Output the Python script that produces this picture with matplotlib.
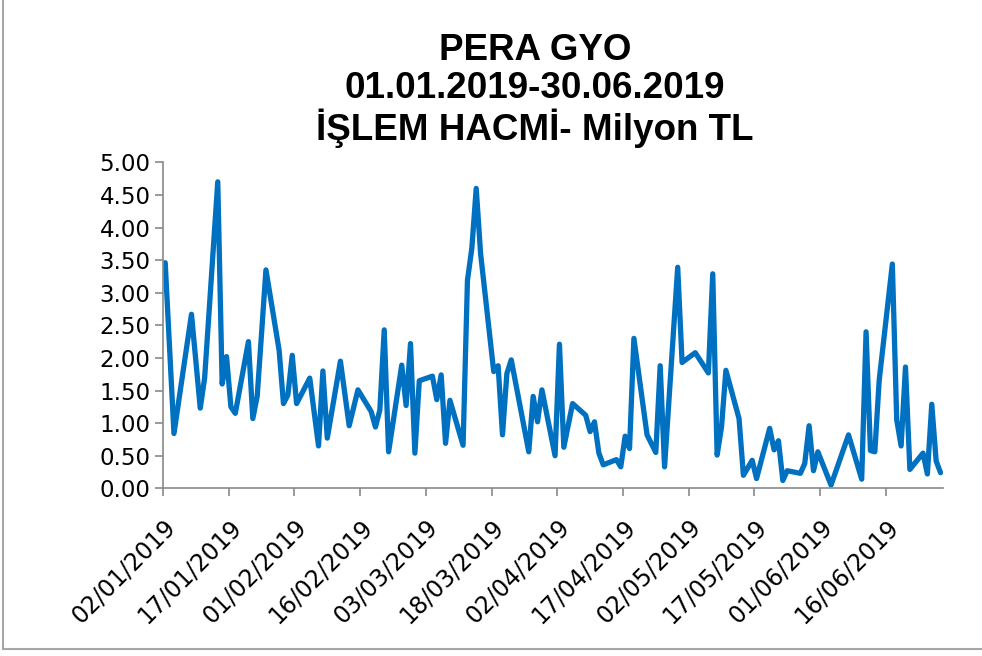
import numpy as np
import pandas as pd
import matplotlib
matplotlib.use("Agg")
from matplotlib import pyplot as plt
import matplotlib.dates as mdates
from matplotlib.lines import Line2D
from matplotlib.transforms import ScaledTranslation

# trading days (2019) and volume in million TL
dates = ["01-02", "01-04", "01-08", "01-10", "01-11", "01-14", "01-15", "01-16",
         "01-17", "01-18", "01-21", "01-22", "01-23", "01-25", "01-28", "01-29",
         "01-30", "01-31", "02-01", "02-04", "02-06", "02-07", "02-08", "02-11",
         "02-13", "02-15", "02-18", "02-19", "02-20", "02-21", "02-22", "02-25",
         "02-26", "02-27", "02-28", "03-01", "03-04", "03-05", "03-06", "03-07",
         "03-08", "03-11", "03-12", "03-13", "03-14", "03-15", "03-18", "03-19",
         "03-20", "03-21", "03-22", "03-26", "03-27", "03-28", "03-29", "04-01",
         "04-02", "04-03", "04-05", "04-08", "04-09", "04-10", "04-11", "04-12",
         "04-15", "04-16", "04-17", "04-18", "04-19", "04-22", "04-24", "04-25",
         "04-26", "04-29", "04-30", "05-03", "05-06", "05-07", "05-08", "05-09",
         "05-10", "05-13", "05-14", "05-16", "05-17", "05-20", "05-21", "05-22",
         "05-23", "05-24", "05-27", "05-28", "05-29", "05-30", "05-31", "06-03",
         "06-07", "06-10", "06-11", "06-12", "06-13", "06-14", "06-17", "06-18",
         "06-19", "06-20", "06-21", "06-24", "06-25", "06-26", "06-27", "06-28"]
volume = [3.46, 0.84, 2.67, 1.23, 1.69, 4.70, 1.60, 2.02,
          1.25, 1.15, 2.25, 1.07, 1.41, 3.35, 2.12, 1.30,
          1.43, 2.04, 1.30, 1.69, 0.65, 1.80, 0.77, 1.95,
          0.96, 1.51, 1.18, 0.94, 1.20, 2.43, 0.56, 1.89,
          1.27, 2.22, 0.54, 1.65, 1.72, 1.36, 1.74, 0.69,
          1.35, 0.66, 3.19, 3.68, 4.60, 3.60, 1.79, 1.88,
          0.82, 1.76, 1.97, 0.56, 1.41, 1.02, 1.51, 0.50,
          2.21, 0.63, 1.30, 1.12, 0.87, 1.02, 0.54, 0.36,
          0.44, 0.33, 0.80, 0.61, 2.30, 0.82, 0.55, 1.88,
          0.33, 3.39, 1.93, 2.08, 1.77, 3.29, 0.51, 0.94,
          1.81, 1.07, 0.20, 0.43, 0.15, 0.92, 0.59, 0.73,
          0.12, 0.27, 0.23, 0.38, 0.96, 0.27, 0.56, 0.05,
          0.82, 0.14, 2.40, 0.58, 0.56, 1.66, 3.44, 1.05,
          0.65, 1.86, 0.29, 0.54, 0.22, 1.29, 0.42, 0.24]
y_ticks = [0, 0.5, 1, 1.5, 2, 2.5, 3, 3.5, 4, 4.5, 5]
title = "PERA GYO\n01.01.2019-30.06.2019\nİŞLEM HACMİ- Milyon TL"

plt.rcParams['font.family'] = ['DejaVu Sans']

x = pd.to_datetime(["2019-" + d for d in dates])
xnum = mdates.date2num(x) + 0.5  # excel puts each date in the middle of its day slot

fig = plt.figure(figsize=(9.82, 6.56), dpi=100)
ax = fig.add_axes([0.166, 0.2556, 0.794, 0.497])

ax.plot(xnum, volume, color="#0070C0", lw=3.8,
        solid_joinstyle="round", solid_capstyle="round")

start = mdates.date2num(pd.Timestamp("2019-01-02"))
end = mdates.date2num(pd.Timestamp("2019-06-29"))
ax.set_xlim(start, end)
ax.set_ylim(0, 5)

xt = pd.date_range("2019-01-02", periods=12, freq="15D")
ax.set_xticks(mdates.date2num(xt))
ax.set_xticklabels([d.strftime("%d/%m/%Y") for d in xt], rotation=45,
                   ha="right", va="top", rotation_mode="anchor", fontsize=17)
for lab in ax.get_xticklabels():
    lab.set_transform(lab.get_transform() + ScaledTranslation(0.05, 0, fig.dpi_scale_trans))

ax.set_yticks(y_ticks)
ax.set_yticklabels(["%.2f" % v for v in y_ticks], fontsize=16.5)

for s in ["top", "right"]:
    ax.spines[s].set_visible(False)
for s in ["left", "bottom"]:
    ax.spines[s].set_color("#898989")
    ax.spines[s].set_linewidth(1.2)
ax.tick_params(axis="y", length=5.5, width=1.2, color="#898989", pad=3.5)
ax.tick_params(axis="x", length=6, width=1.2, color="#898989", pad=13)

fig.text(0.545, 0.862, title, ha="center", va="center", fontsize=26.5,
         fontweight="bold", family="Liberation Sans", linespacing=1.1)

# chart area border
fig.add_artist(Line2D([0.0035, 0.0035], [0.011, 1.0], color="#A6A6A6", lw=1.5))
fig.add_artist(Line2D([0.0035, 1.0], [0.011, 0.011], color="#A6A6A6", lw=1.5))

fig.savefig("out.png", dpi=100)
